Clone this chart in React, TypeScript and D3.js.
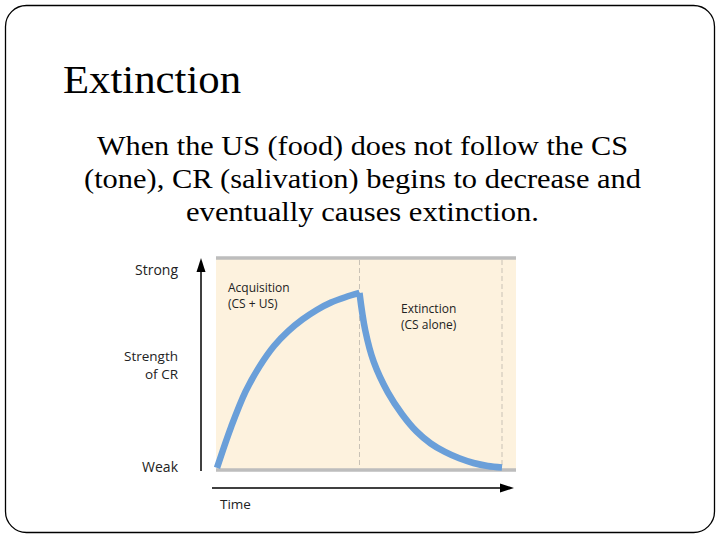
import React from "react";
import * as d3 from "d3";

const title = "Extinction";
const bodyLines = [
  "When the US (food) does not follow the CS",
  "(tone), CR (salivation) begins to decrease and",
  "eventually causes extinction.",
];

const yTickValues = [0, 1];
const yTickLabels = ["Weak", "Strong"];
const yAxisTitle = ["Strength", "of CR"];
const xAxisTitle = "Time";

const phaseBounds = [0, 5, 10];
const phaseLabels = [
  ["Acquisition", "(CS + US)"],
  ["Extinction", "(CS alone)"],
];

const timeAcq = [0, 0.5, 1, 1.5, 2, 2.5, 3, 3.5, 4, 4.5, 5];
const strengthAcq = [0.01, 0.205, 0.37, 0.49, 0.585, 0.655, 0.71, 0.755, 0.79, 0.815, 0.835];
const timeExt = [5, 5.2, 5.5, 6, 6.5, 7, 7.5, 8, 8.5, 9, 9.5, 10];
const strengthExt = [0.835, 0.66, 0.51, 0.365, 0.262, 0.182, 0.125, 0.085, 0.055, 0.033, 0.019, 0.012];

export default function App() {
  const x = d3.scaleLinear().domain([0, 10]).range([217, 502]);
  const y = d3.scaleLinear().domain([0, 1]).range([470, 258]);

  const line = d3
    .line<[number, number]>()
    .x((d) => x(d[0]))
    .y((d) => y(d[1]))
    .curve(d3.curveCatmullRom.alpha(0.5));

  const acq = line(timeAcq.map((t, i) => [t, strengthAcq[i]] as [number, number])) || "";
  const ext = line(timeExt.map((t, i) => [t, strengthExt[i]] as [number, number])) || "";

  const sans = "'Open Sans', sans-serif";
  const serif = "'Liberation Serif', serif";
  const panelLeft = x(0) - 1;
  const panelRight = x(10) + 14;
  const tickLabelY = [472, 275];

  return (
    <svg
      width={720}
      height={540}
      style={{ position: "absolute", left: 0, top: 0, background: "#fff" }}
    >
      <rect x={5.5} y={5.5} width={709} height={527} rx={21} ry={21} fill="#fff" stroke="#000" strokeWidth={1.3} />

      <text x={63} y={93} fontFamily={serif} fontSize={40} textLength={178} lengthAdjust="spacingAndGlyphs" fill="#000">
        {title}
      </text>
      {bodyLines.map((l, i) => {
        const lens = [531, 557, 353];
        return (
          <text
            key={i}
            x={362.5}
            y={155 + i * 33}
            textAnchor="middle"
            fontFamily={serif}
            fontSize={28}
            textLength={lens[i]}
            lengthAdjust="spacingAndGlyphs"
            fill="#000"
          >
            {l}
          </text>
        );
      })}

      {/* panel */}
      <rect x={panelLeft} y={y(1)} width={panelRight - panelLeft} height={y(0) - y(1)} fill="#fdf2de" />
      {yTickValues.map((v, i) => (
        <line key={i} x1={panelLeft} x2={panelRight} y1={y(v)} y2={y(v)} stroke="#bdbdbd" strokeWidth={3.5} />
      ))}
      {phaseBounds.slice(1).map((b, i) => (
        <line
          key={i}
          x1={x(b)}
          x2={x(b)}
          y1={y(1) + 2}
          y2={y(0) - 2}
          stroke="#c9c2b6"
          strokeWidth={1}
          strokeDasharray="5,3"
        />
      ))}

      {/* curve */}
      <path d={acq} fill="none" stroke="#6a9fd9" strokeWidth={6.5} strokeLinecap="butt" />
      <path d={ext} fill="none" stroke="#6a9fd9" strokeWidth={6.5} strokeLinecap="butt" />

      {/* axes arrows */}
      <line x1={201} x2={201} y1={471} y2={270} stroke="#000" strokeWidth={1.5} />
      <path d="M201,258 L205.5,272 L196.5,272 Z" fill="#000" />
      <line x1={212} x2={500} y1={488} y2={488} stroke="#000" strokeWidth={1.5} />
      <path d="M514,488 L500,483.5 L500,492.5 Z" fill="#000" />

      {/* labels */}
      {yTickValues.map((v, i) => (
        <text key={i} x={178} y={tickLabelY[i]} textAnchor="end" fontFamily={sans} fontSize={14} fill="#222">
          {yTickLabels[i]}
        </text>
      ))}
      {yAxisTitle.map((t, i) => (
        <text key={i} x={178} y={361 + i * 18} textAnchor="end" fontFamily={sans} fontSize={13.5} fill="#222">
          {t}
        </text>
      ))}
      <text x={220} y={509} fontFamily={sans} fontSize={13.5} fill="#222">
        {xAxisTitle}
      </text>
      {phaseLabels.map((lines, i) =>
        lines.map((t, j) => (
          <text
            key={`${i}-${j}`}
            x={i === 0 ? 228 : 401}
            y={(i === 0 ? 292 : 313) + j * 15.5}
            fontFamily={sans}
            fontSize={12}
            fill="#222"
          >
            {t}
          </text>
        ))
      )}
    </svg>
  );
}
